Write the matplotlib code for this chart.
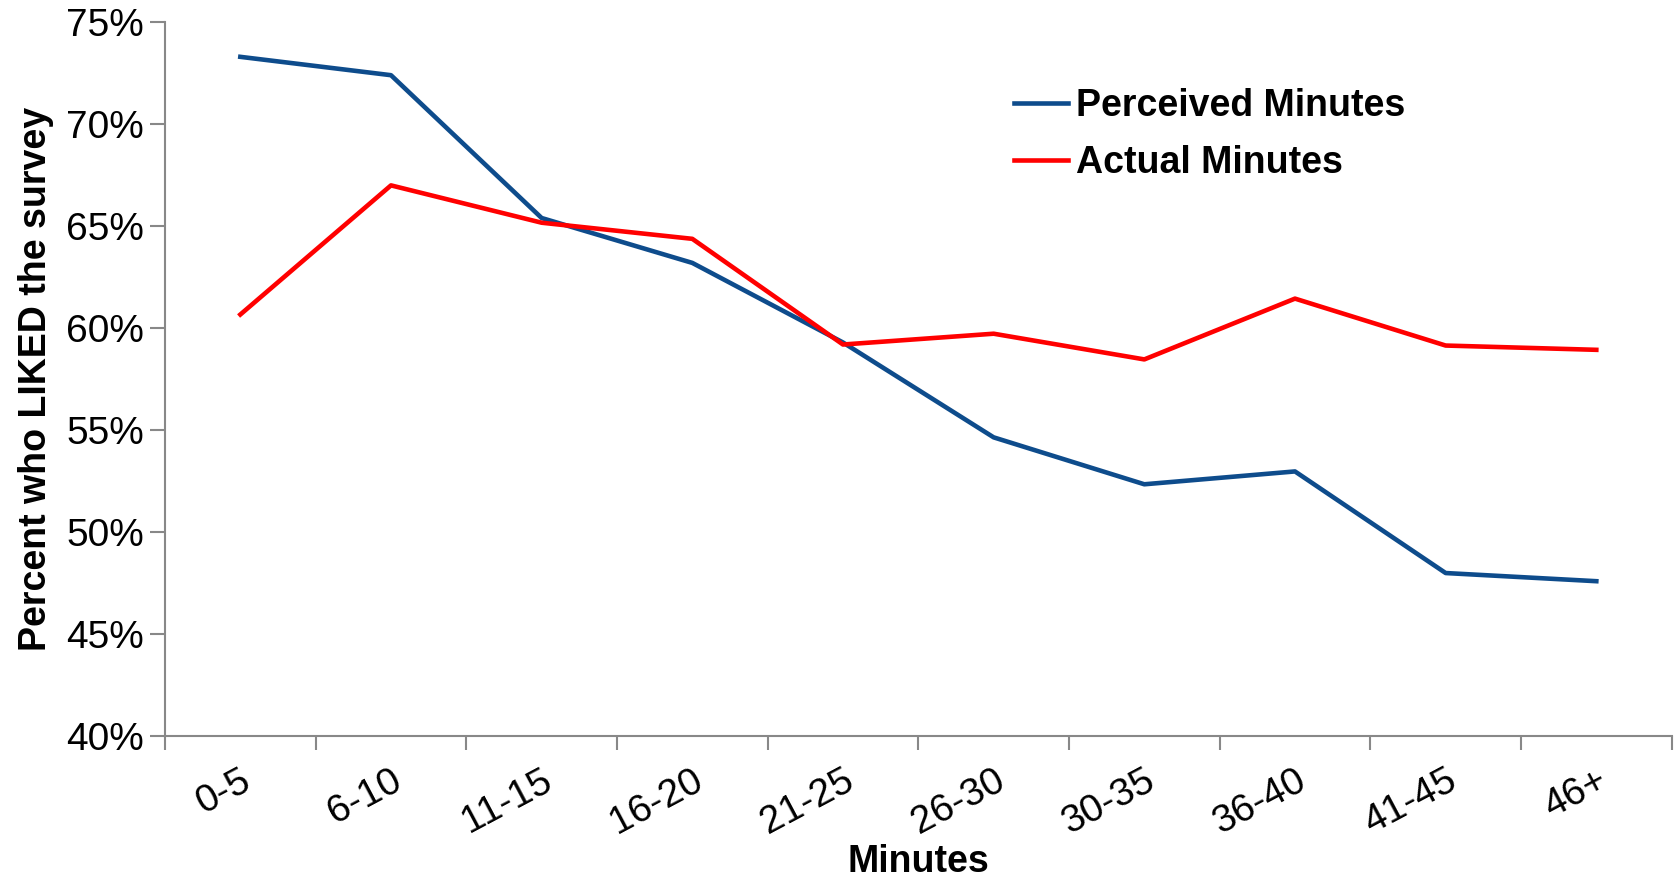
import matplotlib.pyplot as plt
import numpy as np
from matplotlib.ticker import FixedLocator

plt.rcParams['font.family'] = ['Liberation Sans', 'DejaVu Sans']

categories = ['0-5', '6-10', '11-15', '16-20', '21-25', '26-30',
              '30-35', '36-40', '41-45', '46+']
perceived = [73.3, 72.4, 65.4, 63.2, 59.3, 54.65, 52.35, 52.98, 48.0, 47.6]
actual = [60.67, 67.0, 65.17, 64.38, 59.2, 59.73, 58.47, 61.45, 59.15, 58.94]
yticks = [40, 45, 50, 55, 60, 65, 70, 75]

fig = plt.figure(figsize=(16.75, 8.86), dpi=100)
ax = fig.add_axes([0.0985, 0.169, 0.8995, 0.806])

x = np.arange(len(categories))
ax.plot(x, perceived, color='#0E4C8C', lw=3.3, label='Perceived Minutes')
ax.plot(x, actual, color='#FF0000', lw=3.3, label='Actual Minutes')

ax.set_xlim(-0.5, len(categories) - 0.5)
ax.set_ylim(40, 75)
ax.set_yticks(yticks)
ax.set_yticklabels(['{}%'.format(v) for v in yticks], fontsize=28)

ax.set_xticks(x)
ax.set_xticklabels(categories, fontsize=28, rotation=28, ha='right', va='top',
                   rotation_mode='anchor')
ax.xaxis.set_minor_locator(FixedLocator(np.arange(-0.5, len(categories), 1.0)))
ax.tick_params(axis='x', which='major', length=0, pad=19)
ax.tick_params(axis='x', which='minor', length=10, width=1.5, color='#888888')
ax.tick_params(axis='y', length=11, width=1.5, color='#888888', pad=4)

for s in ['top', 'right']:
    ax.spines[s].set_visible(False)
for s in ['left', 'bottom']:
    ax.spines[s].set_color('#888888')
    ax.spines[s].set_linewidth(1.5)

ax.set_ylabel('Percent who LIKED the survey', fontsize=27, fontweight='bold', labelpad=9)
ax.set_xlabel('Minutes', fontsize=27, fontweight='bold', labelpad=2)

leg = ax.legend(loc='upper left', bbox_to_anchor=(0.541, 0.955), frameon=False,
                prop={'size': 27, 'weight': 'bold'}, handlelength=1.45,
                handletextpad=0.2, labelspacing=0.55)

fig.savefig('out.png', dpi=100)
